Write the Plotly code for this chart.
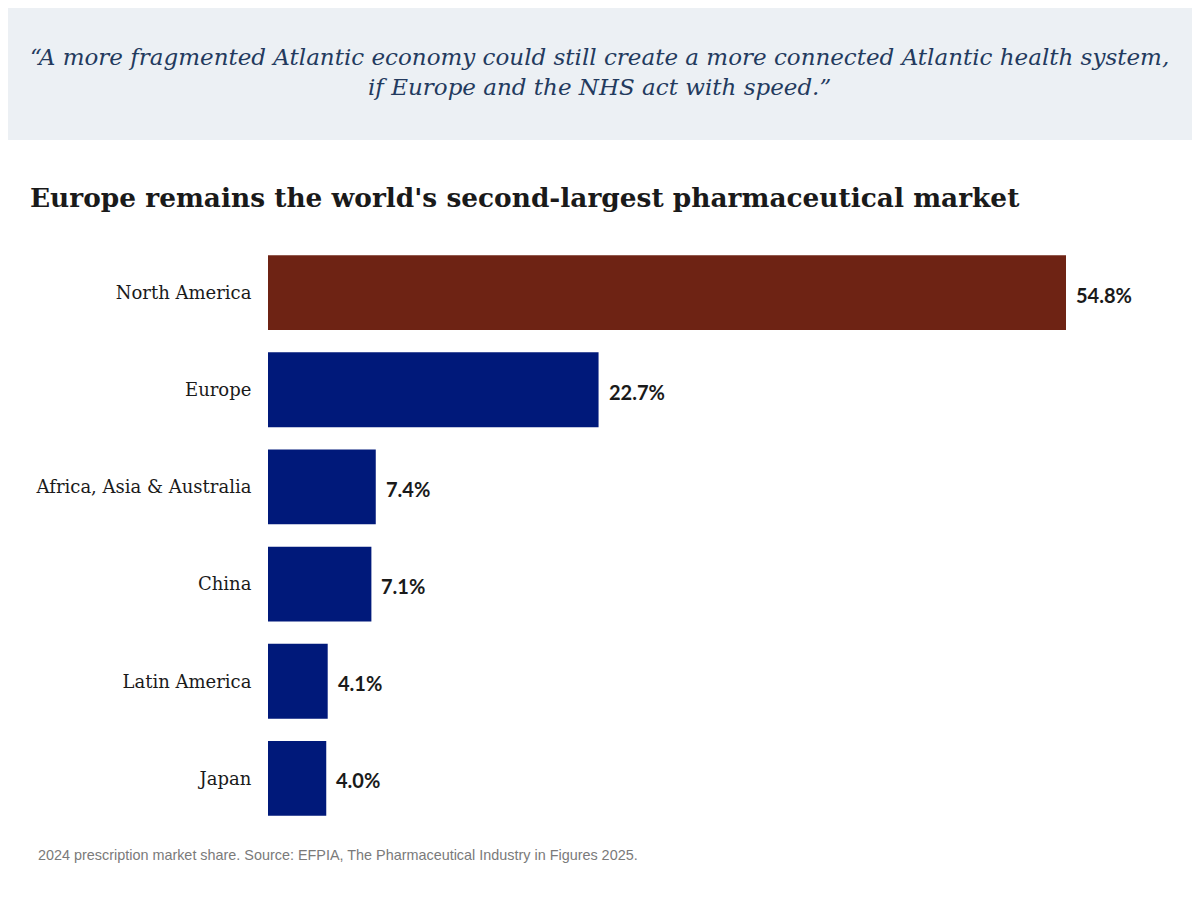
import plotly.graph_objects as go

# 2024 prescription market share (%), EFPIA
regions = ["North America", "Europe", "Africa, Asia & Australia", "China", "Latin America", "Japan"]
shares = [54.8, 22.7, 7.4, 7.1, 4.1, 4.0]
bar_colors = ["#6E2314", "#00197A", "#00197A", "#00197A", "#00197A", "#00197A"]
value_labels = [f"{v:.1f}%" for v in shares]

quote = ("\u201cA more fragmented Atlantic economy could still create a more connected Atlantic health system,"
         "<br>if Europe and the NHS act with speed.\u201d")
title = "Europe remains the world's second-largest pharmaceutical market"
note = "2024 prescription market share. Source: EFPIA, The Pharmaceutical Industry in Figures 2025."

# the page puts the figure 8px in from the corner, so work in page pixels
OFF = 8
W, H = 1200, 900
ML, MR, MT, MB = 268 - OFF, 20, 244 - OFF, 900 - 827 + OFF
PW, PH = W - ML - MR, H - MT - MB


def px(x):
    return (x - OFF - ML) / PW


def py(y):
    return 1 - (y - OFF - MT) / PH


fig = go.Figure()

fig.add_trace(go.Bar(
    x=shares,
    y=regions,
    orientation="h",
    marker=dict(color=bar_colors, line=dict(width=0)),
    width=0.77,
    hoverinfo="skip",
))

# value labels just past the end of each bar
for r, v, lab in zip(regions, shares, value_labels):
    fig.add_annotation(
        x=v, y=r, text=lab, showarrow=False,
        xanchor="left", yanchor="middle", xshift=8, yshift=-2,
        font=dict(family="Lato", size=20, color="#1a1a1a", weight="bold"),
    )

# header band with the quote
fig.add_shape(type="rect", xref="paper", yref="paper",
              x0=px(0), x1=px(W + OFF), y0=py(140), y1=py(0),
              fillcolor="#ECF0F4", line=dict(width=0), layer="below")
fig.add_annotation(
    xref="paper", yref="paper", x=px(599), y=py(72),
    xanchor="center", yanchor="middle", text=quote, showarrow=False, align="center",
    font=dict(family="DejaVu Serif", size=23, color="#233A5E", style="italic"),
)

fig.add_annotation(
    xref="paper", yref="paper", x=px(28), y=py(197),
    xanchor="left", yanchor="middle", text=f"<b>{title}</b>", showarrow=False,
    font=dict(family="DejaVu Serif", size=26.4, color="#1a1a1a"),
)

fig.add_annotation(
    xref="paper", yref="paper", x=px(36), y=py(855),
    xanchor="left", yanchor="middle", text=note, showarrow=False,
    font=dict(family="Liberation Sans", size=14.4, color="#7a7a7a"),
)

fig.update_xaxes(range=[0, PW / (798 / 54.8)], visible=False, fixedrange=True)
fig.update_yaxes(
    categoryorder="array", categoryarray=regions, autorange="reversed",
    showgrid=False, zeroline=False, showline=False,
    ticks="outside", ticklen=12, tickcolor="rgba(0,0,0,0)",
    tickfont=dict(family="DejaVu Serif", size=18, color="#1a1a1a"),
    fixedrange=True,
)

fig.update_layout(
    width=W, height=H,
    margin=dict(l=ML, r=MR, t=MT, b=MB),
    paper_bgcolor="white", plot_bgcolor="white",
    showlegend=False, bargap=0.23,
)

fig.write_html("out.html")
